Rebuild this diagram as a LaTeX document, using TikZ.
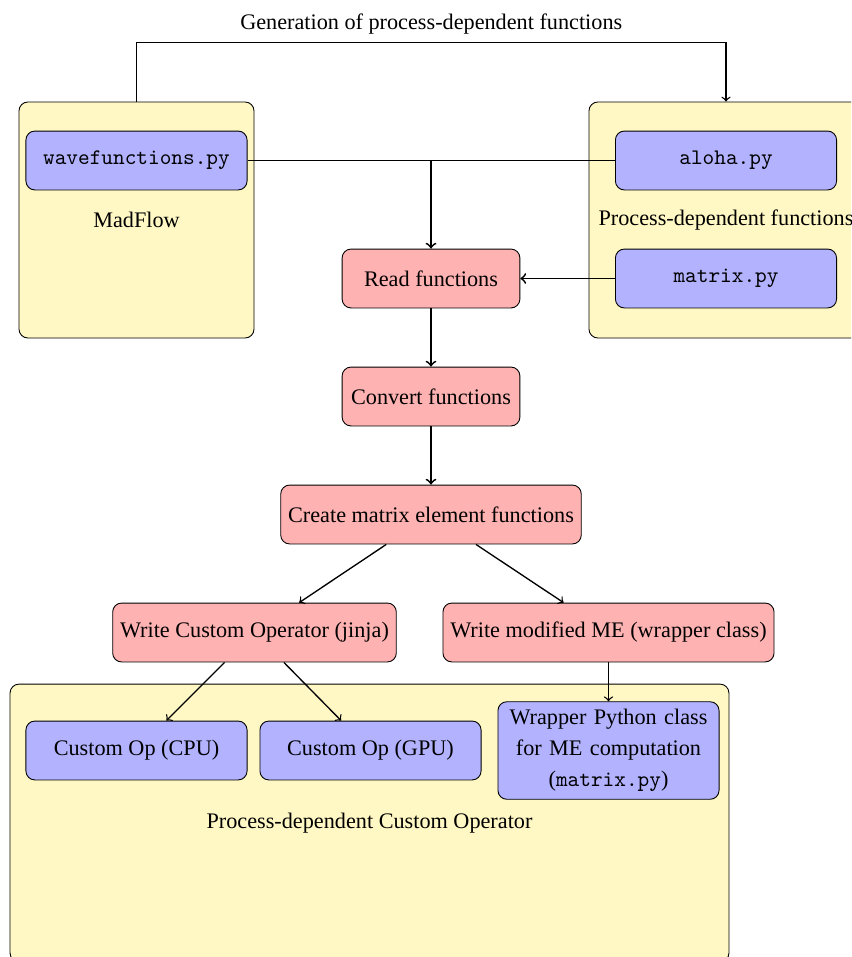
\documentclass[tikz,border=0pt]{standalone}
\usepackage{fontspec}
\setmainfont{Liberation Serif}
\usepackage{tikz}
\definecolor{groupfill}{RGB}{255,248,196}

\begin{document}
\begin{tikzpicture}[x=0.45pt, y=-0.45pt,
        groupbox/.style={draw, rounded corners, fill=groupfill},
        filebox/.style={draw, rounded corners, fill=blue!30, minimum width=99.5pt, minimum height=26.5pt},
        stepbox/.style={draw, rounded corners, fill=red!30, minimum width=80pt, minimum height=26.5pt}]
        \useasboundingbox (0,0) rectangle (851,957);
        \clip (0,0) rectangle (851,957);
        \node[groupbox, minimum width=105.75pt, minimum height=106.2pt] (madflow) at (136.5,220) {MadFlow};
        \node[groupbox, minimum width=123.3pt, minimum height=106.2pt] (procfun) at (726,220) {Process-dependent functions};
        \node[groupbox, minimum width=323.5pt, minimum height=125pt] (customop) at (369.5,823) {Process-dependent Custom Operator};
        \node[filebox] (wave) at (136.5,160.5) {\texttt{wavefunctions.py}};
        \node[filebox] (aloha) at (726,160.5) {\texttt{aloha.py}};
        \node[filebox] (matrix) at (726,278.5) {\texttt{matrix.py}};
        \node[stepbox] (read) at (431,278.5) {Read functions};
        \node[stepbox] (convert) at (431,396.5) {Convert functions};
        \node[stepbox] (create) at (431,514.5) {Create matrix element functions};
        \node[stepbox] (writeop) at (254.5,632.5) {Write Custom Operator (jinja)};
        \node[stepbox] (writeme) at (608.5,632.5) {Write modified ME (wrapper class)};
        \node[filebox] (cpu) at (136.5,750.5) {Custom Op (CPU)};
        \node[filebox] (gpu) at (370.5,750.5) {Custom Op (GPU)};
        \node[filebox, text width=92.8pt, align=center, font=\fontsize{10}{14}\selectfont] (wrapper) at (608.5,750.5) {Wrapper Python class\\for ME computation\\(\texttt{matrix.py})};
        \draw[->, semithick] (madflow.north) -- ++(0,-59) coordinate (genleft) -| node[above, pos=0.25] (gentitle) {Generation of process-dependent functions} (procfun.north);
        \draw[thick] (wave) -- (aloha);
        \draw[->, thick] (read.north |- wave.east) -- (read.north);
        \draw[->, thick] (matrix) -- (read);
        \draw[->, thick] (read) -- (convert);
        \draw[->, thick] (convert) -- (create);
        \draw[->, semithick] (create) -- (writeop);
        \draw[->, semithick] (create) -- (writeme);
        \draw[->, semithick] (writeop) -- (cpu);
        \draw[->, semithick] (writeop) -- (gpu);
        \draw[->, semithick] (writeme) -- (wrapper);
      \end{tikzpicture}
\end{document}
